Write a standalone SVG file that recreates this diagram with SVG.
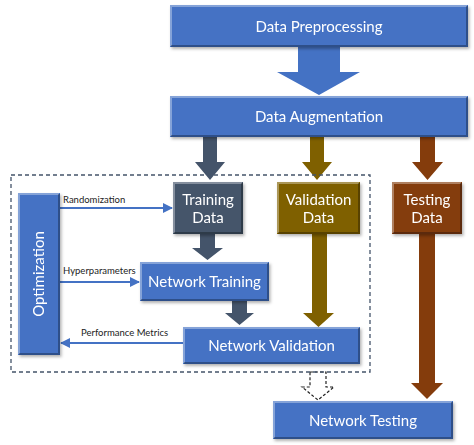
<svg xmlns="http://www.w3.org/2000/svg" width="474" height="445" viewBox="0 0 474 445">
<defs>
<filter id="sh" x="-10%" y="-10%" width="130%" height="140%"><feDropShadow dx="1.5" dy="2" stdDeviation="1.5" flood-color="#000" flood-opacity="0.3"/></filter>
<marker id="ah" viewBox="0 0 10 10" refX="9" refY="5" markerWidth="5" markerHeight="5" orient="auto-start-reverse"><path d="M0,0 L10,5 L0,10 z" fill="#4472C4"/></marker>
</defs>
<style>
.blue{fill:#4472C4}
.slate{fill:#44546A}
.gold{fill:#7F6000}
.rust{fill:#843C0C}
.hl{fill:none;stroke:#fff;stroke-opacity:0.35;stroke-width:2}
.dk{fill:none;stroke:#000;stroke-opacity:0.3;stroke-width:2}
.t{font-family:Lato,"Open Sans",sans-serif;fill:#fff;text-anchor:middle}
.s{font-family:Lato,"Open Sans",sans-serif;fill:#222;font-size:9.5px}
.ln{stroke:#4472C4;stroke-width:2;fill:none}
</style>
<rect width="474" height="445" fill="#fff"/>
<g id="connectors">
<path class="blue" d="M298,47 H340 V72 H360 L319,95 L277,72 H298 Z"/>
<path class="slate" d="M203,137 H217 V162 H225 L210,180 L195,162 H203 Z"/>
<path class="gold" d="M310,137 H324 V162 H332 L317,180 L302,162 H310 Z"/>
<path class="rust" d="M420,137 H435 V162 H443 L427.5,180 L412,162 H420 Z"/>
<path class="slate" d="M200,234 H215 V248 H223 L207.5,260 L192,248 H200 Z"/>
<path class="slate" d="M232,301 H247 V313 H254 L239.5,325 L225,313 H232 Z"/>
<path class="gold" d="M312,234 H327 V313 H334 L318.5,327 L303,313 H312 Z"/>
<path class="rust" d="M419,234 H435 V383 H443 L427,399 L411,383 H419 Z"/>
<path d="M310,372 H326 V387 H334 L318,400 L302,387 H310 Z" fill="#fff" stroke="#222" stroke-width="1.2" stroke-dasharray="3,2"/>
<rect x="11" y="175" width="359" height="197" fill="none" stroke="#44546A" stroke-width="1.3" stroke-dasharray="4,3"/>
<line class="ln" x1="60" y1="208" x2="172" y2="208" marker-end="url(#ah)"/>
<line class="ln" x1="60" y1="282" x2="139" y2="282" marker-end="url(#ah)"/>
<line class="ln" x1="183" y1="343" x2="61" y2="343" marker-end="url(#ah)"/>
<text class="s" x="63" y="203">Randomization</text>
<text class="s" x="63" y="274">Hyperparameters</text>
<text class="s" x="81" y="336">Performance Metrics</text>
</g>
<g id="data-preprocessing" filter="url(#sh)">
<rect class="blue" x="170" y="5" width="298" height="42"/>
<path class="hl" d="M171,46 V6 H467"/><path class="dk" d="M467,6 V46 H171"/>
<text class="t" x="319" y="32" font-size="15">Data Preprocessing</text>
</g>
<g id="data-augmentation" filter="url(#sh)">
<rect class="blue" x="170" y="96" width="298" height="41"/>
<path class="hl" d="M171,136 V97 H467"/><path class="dk" d="M467,97 V136 H171"/>
<text class="t" x="319" y="122" font-size="15">Data Augmentation</text>
</g>
<g id="training-data" filter="url(#sh)">
<rect class="slate" x="173" y="182" width="70" height="52"/>
<path class="hl" d="M174,233 V183 H242"/><path class="dk" d="M242,183 V233 H174"/>
<text class="t" x="208" y="205" font-size="15">Training</text>
<text class="t" x="208" y="223" font-size="15">Data</text>
</g>
<g id="validation-data" filter="url(#sh)">
<rect class="gold" x="277" y="182" width="83" height="52"/>
<path class="hl" d="M278,233 V183 H359"/><path class="dk" d="M359,183 V233 H278"/>
<text class="t" x="318.5" y="205" font-size="15">Validation</text>
<text class="t" x="318.5" y="223" font-size="15">Data</text>
</g>
<g id="testing-data" filter="url(#sh)">
<rect class="rust" x="392" y="182" width="70" height="52"/>
<path class="hl" d="M393,233 V183 H461"/><path class="dk" d="M461,183 V233 H393"/>
<text class="t" x="427" y="205" font-size="15">Testing</text>
<text class="t" x="427" y="223" font-size="15">Data</text>
</g>
<g id="optimization" filter="url(#sh)">
<rect class="blue" x="18" y="193" width="42" height="162"/>
<path class="hl" d="M19,354 V194 H59"/><path class="dk" d="M59,194 V354 H19"/>
<text class="t" font-size="15" transform="translate(44,274) rotate(-90)">Optimization</text>
</g>
<g id="network-training" filter="url(#sh)">
<rect class="blue" x="140" y="262" width="129" height="39"/>
<path class="hl" d="M141,300 V263 H268"/><path class="dk" d="M268,263 V300 H141"/>
<text class="t" x="204.5" y="287" font-size="15">Network Training</text>
</g>
<g id="network-validation" filter="url(#sh)">
<rect class="blue" x="183" y="327" width="177" height="37"/>
<path class="hl" d="M184,363 V328 H359"/><path class="dk" d="M359,328 V363 H184"/>
<text class="t" x="271.5" y="351" font-size="15">Network Validation</text>
</g>
<g id="network-testing" filter="url(#sh)">
<rect class="blue" x="273" y="401" width="180" height="38"/>
<path class="hl" d="M274,438 V402 H452"/><path class="dk" d="M452,402 V438 H274"/>
<text class="t" x="363" y="426" font-size="15">Network Testing</text>
</g>
</svg>
